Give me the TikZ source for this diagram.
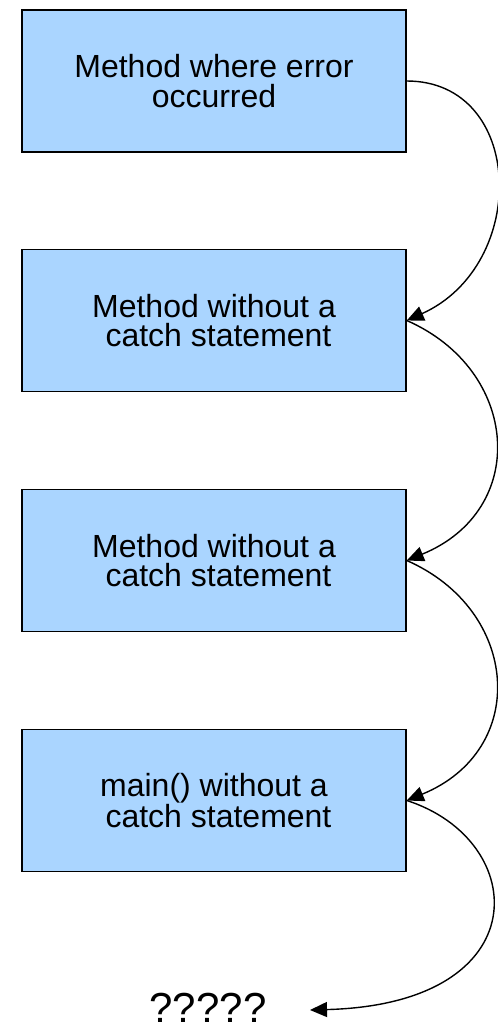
\documentclass[tikz,border=0pt]{standalone}
\usepackage{fontspec}
\setmainfont{Liberation Sans}
\usetikzlibrary{arrows.meta}
\definecolor{boxblue}{RGB}{170,213,255}
\begin{document}
\begin{tikzpicture}[x=1pt,y=-1pt,
  box/.style={draw=black, line width=1.5pt, fill=boxblue, minimum width=384pt, minimum height=142pt, inner sep=0pt, align=center, font=\fontsize{32}{29.5}\selectfont},
  link/.style={draw=black, line width=1.4pt, -{Triangle[length=17pt,width=15pt]}}]
\useasboundingbox (0,0) rectangle (498,1034);
\node[box] (b1) at (214,81) {Method where error\\occurred};
\node[box] (b2) at (214,320.5) {Method without a\\\hspace*{0.28em}catch statement};
\node[box] (b3) at (214,560.5) {Method without a\\\hspace*{0.28em}catch statement};
\node[box] (b4) at (214,800.5) {main() without a\\\hspace*{0.28em}catch statement};
\node[anchor=base, inner sep=0pt, font=\fontsize{42}{42}\selectfont] (q) at (208,1022) {?????};
\coordinate (qa) at (310,1010);
\draw[link] (b1.east) .. controls (525,81) and (530,265) .. (b2.east);
\draw[link] (b2.east) .. controls (520,370) and (530,510) .. (b3.east);
\draw[link] (b3.east) .. controls (520,610) and (530,750) .. (b4.east);
\draw[link] (b4.east) .. controls (530,840) and (540,1004) .. (qa);
\end{tikzpicture}
\end{document}
